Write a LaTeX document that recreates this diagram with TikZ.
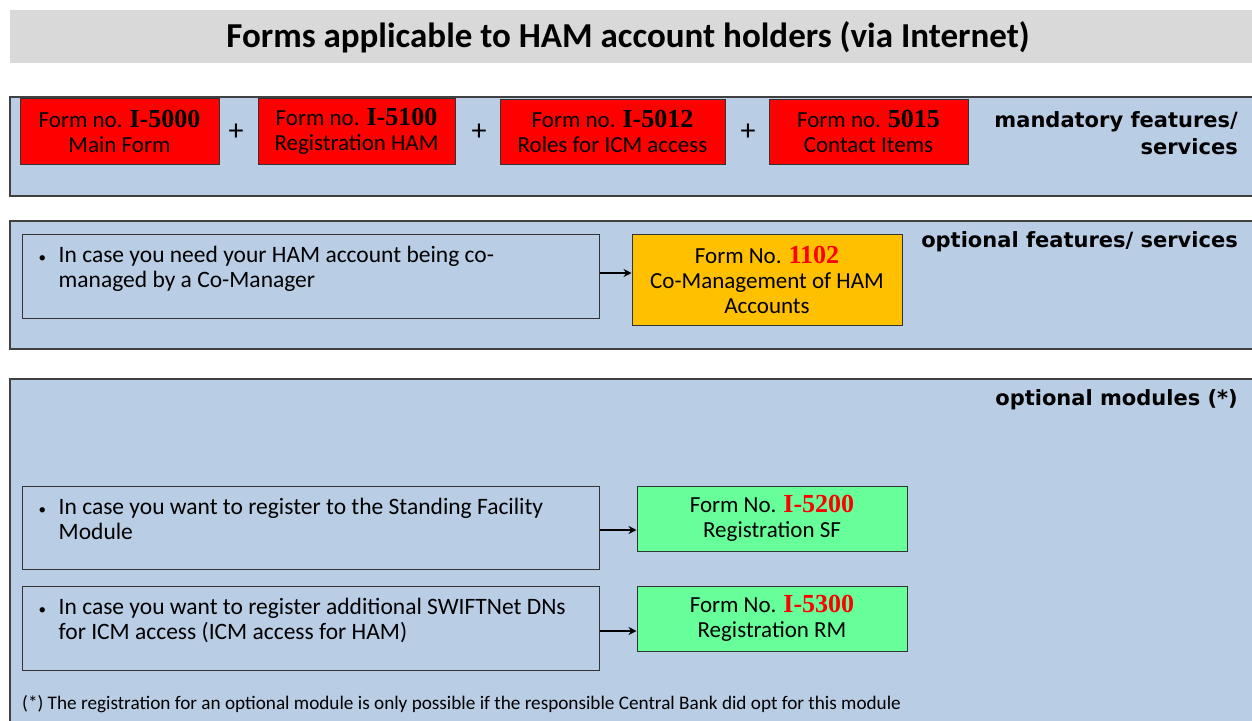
\documentclass[tikz,border=0pt]{standalone}
\usepackage{fontspec}
\setmainfont{Carlito}
\newfontfamily\numfont{Liberation Serif}
\newfontfamily\labfont{DejaVu Sans}
\usetikzlibrary{arrows.meta}
\definecolor{bandblue}{HTML}{B9CDE5}
\definecolor{titlegray}{HTML}{D9D9D9}
\definecolor{frame}{HTML}{404040}
\definecolor{formyellow}{HTML}{FFC000}
\definecolor{formgreen}{HTML}{66FF99}
\tikzset{
  band/.style={draw=frame, line width=1.2pt, fill=bandblue},
  formbox/.style={draw=black!80, line width=1pt, inner sep=0pt, align=center,
    font=\fontsize{23}{25}\selectfont},
  redform/.style={formbox, fill=red},
  yellowform/.style={formbox, fill=formyellow},
  greenform/.style={formbox, fill=formgreen},
  casebox/.style={draw=black!80, line width=1pt, inner sep=0pt},
  casetext/.style={anchor=north west, align=left, inner sep=0pt,
    font=\fontsize{23.5}{25}\selectfont},
  sectlabel/.style={anchor=east, align=right, inner sep=0pt,
    font=\labfont\bfseries\fontsize{21}{27}\selectfont},
  plus/.style={font=\fontsize{30}{30}\selectfont, inner sep=0pt},
  conn/.style={-{Stealth[length=8pt,width=8pt]}, line width=2.2pt},
}
\newcommand{\fnum}[1]{{\numfont\bfseries\fontsize{26}{25}\selectfont #1}}
\newcommand{\bul}{\makebox[20pt][l]{\fontsize{15}{15}\selectfont\textbullet}}
\begin{document}
\begin{tikzpicture}[x=1pt,y=-1pt]
\useasboundingbox (0,0) rectangle (1252,720);
% title
\fill[titlegray] (10,10) rectangle (1256,63);
\node[font=\bfseries\fontsize{35}{35}\selectfont] (title) at (628,37) {Forms applicable to HAM account holders (via Internet)};
% bands
\draw[band] (10,97) rectangle (1258,196);
\draw[band] (10,221) rectangle (1258,349);
\draw[band] (10,379) rectangle (1258,726);
% band 1
\node[redform, minimum width=199pt, minimum height=66pt] (f5000) at (119.5,131) {Form no. \fnum{I-5000}\\Main Form};
\node[plus] (p1) at (236,132) {+};
\node[redform, minimum width=197pt, minimum height=66pt] (f5100) at (356.5,131) {Form no. \fnum{I-5100}\\Registration HAM};
\node[plus] (p2) at (479,132) {+};
\node[redform, minimum width=225pt, minimum height=65pt] (f5012) at (612.5,131.5) {Form no. \fnum{I-5012}\\Roles for ICM access};
\node[plus] (p3) at (748,132) {+};
\node[redform, minimum width=199pt, minimum height=65pt] (f5015) at (868.5,131.5) {Form no. \fnum{5015}\\Contact Items};
\node[sectlabel] (lab1) at (1238,133) {mandatory features/\\services};
% band 2
\node[casebox, minimum width=577pt, minimum height=84pt] (cco) at (310.5,276) {};
\node[casetext] (tco) at ([xshift=17pt,yshift=-12pt]cco.north west) {\bul In case you need your HAM account being co-\\\hspace*{20pt}managed by a Co-Manager};
\node[yellowform, minimum width=270pt, minimum height=91pt] (f1102) at (767,279.5) {Form No. \textcolor{red}{\fnum{1102}}\\Co-Management of HAM\\Accounts};
\draw[conn] (cco.east |- 0,273) coordinate (a1) -- (a1 -| f1102.west);
\node[sectlabel] (lab2) at (1238,242) {optional features/ services};
% band 3
\node[sectlabel] (lab3) at (1238,400) {optional modules (*)};
\node[casebox, minimum width=577pt, minimum height=83pt] (csf) at (310.5,527.5) {};
\node[casetext] (tsf) at ([xshift=17pt,yshift=-12pt]csf.north west) {\bul In case you want to register to the Standing Facility\\\hspace*{20pt}Module};
\node[greenform, minimum width=270pt, minimum height=65pt] (f5200) at (772,518.5) {Form No. \textcolor{red}{\fnum{I-5200}}\\Registration SF};
\draw[conn] (csf.east |- 0,530) coordinate (a2) -- (a2 -| f5200.west);
\node[casebox, minimum width=577pt, minimum height=84pt] (crm) at (310.5,628) {};
\node[casetext] (trm) at ([xshift=17pt,yshift=-12pt]crm.north west) {\bul In case you want to register additional SWIFTNet DNs\\\hspace*{20pt}for ICM access (ICM access for HAM)};
\node[greenform, minimum width=270pt, minimum height=65pt] (f5300) at (772,618.5) {Form No. \textcolor{red}{\fnum{I-5300}}\\Registration RM};
\draw[conn] (crm.east |- 0,631) coordinate (a3) -- (a3 -| f5300.west);
\node[anchor=west, inner sep=0pt, font=\fontsize{19.2}{19}\selectfont] (foot) at (22,704) {(*) The registration for an optional module is only possible if the responsible Central Bank did opt for this module};
\end{tikzpicture}
\end{document}
